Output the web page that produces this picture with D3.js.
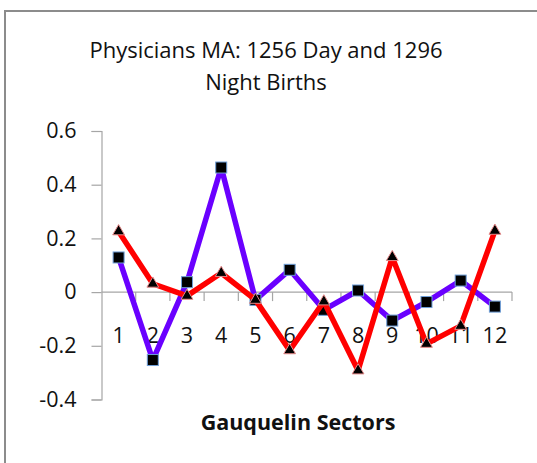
<!DOCTYPE html>
<html>
<head>
<meta charset="utf-8">
<script src="https://cdn.jsdelivr.net/npm/d3@7"></script>
<style>
  body { margin: 0; background: #fff; }
  text { font-family: "Open Sans", "Noto Sans", sans-serif; fill: #111; }
</style>
</head>
<body>
<div id="chart"></div>
<script>
(function() {

    var width = 537, height = 463;

    // chart data
    var sectors = ["1", "2", "3", "4", "5", "6", "7", "8", "9", "10", "11", "12"];
    var dayValues = [0.129, -0.253, 0.037, 0.464, -0.029, 0.083, -0.066, 0.006, -0.106, -0.037, 0.043, -0.054];
    var nightValues = [0.226, 0.031, -0.014, 0.071, -0.029, -0.217, -0.035, -0.292, 0.130, -0.193, -0.126, 0.228];
    var yTicks = [0.6, 0.4, 0.2, 0, -0.2, -0.4];

    var svg = d3.select("#chart")
        .append("svg")
        .attr("width", width)
        .attr("height", height);

    // outer frame (cut off at right and bottom)
    svg.append("rect")
        .attr("x", 5)
        .attr("y", 11)
        .attr("width", 545)
        .attr("height", 470)
        .attr("fill", "#fff")
        .attr("stroke", "#8c8c8c")
        .attr("stroke-width", 2);

    var x = d3.scaleBand()
        .domain(sectors)
        .range([101.5, 512]);

    var y = d3.scaleLinear()
        .domain([-0.4, 0.6])
        .range([399.5, 131]);

    // y axis
    var yAxis = svg.append("g")
        .attr("transform", "translate(101.5,0)")
        .call(d3.axisLeft(y)
            .tickValues(yTicks)
            .tickSize(10)
            .tickPadding(15)
            .tickFormat(function(d) { return d === 0 ? "0" : d.toFixed(1); }));
    yAxis.select(".domain").attr("stroke", "#a6a6a6").attr("stroke-width", 1.2);
    yAxis.selectAll(".tick line").attr("stroke", "#a6a6a6").attr("stroke-width", 1.2);
    yAxis.selectAll(".tick text")
        .style("font-size", "21.5px")
        .attr("fill", "#111");

    // x axis at zero with tick marks between categories
    var xAxisG = svg.append("g")
        .attr("transform", "translate(0," + y(0) + ")");
    xAxisG.append("line")
        .attr("x1", 101.5)
        .attr("x2", 512)
        .attr("stroke", "#a6a6a6")
        .attr("stroke-width", 1.2);
    var bounds = sectors.map(function(s) { return x(s) + x.bandwidth(); });
    xAxisG.selectAll(".xtick")
        .data(bounds)
        .enter()
        .append("line")
        .attr("class", "xtick")
        .attr("x1", function(d) { return d; })
        .attr("x2", function(d) { return d; })
        .attr("y1", 0)
        .attr("y2", 9)
        .attr("stroke", "#a6a6a6")
        .attr("stroke-width", 1.2);
    xAxisG.selectAll(".xlabel")
        .data(sectors)
        .enter()
        .append("text")
        .attr("class", "xlabel")
        .attr("x", function(d) { return x(d) + x.bandwidth() / 2; })
        .attr("y", 51)
        .attr("text-anchor", "middle")
        .style("font-size", "21.5px")
        .text(function(d) { return d; });

    var line = d3.line()
        .x(function(d, i) { return x(sectors[i]) + x.bandwidth() / 2; })
        .y(function(d) { return y(d); });

    // day series (purple, squares)
    svg.append("path")
        .datum(dayValues)
        .attr("d", line)
        .attr("fill", "none")
        .attr("stroke", "#6a00ff")
        .attr("stroke-width", 5.5)
        .attr("stroke-linejoin", "round");
    svg.selectAll(".sq")
        .data(dayValues)
        .enter()
        .append("rect")
        .attr("class", "sq")
        .attr("x", function(d, i) { return x(sectors[i]) + x.bandwidth() / 2 - 5.5; })
        .attr("y", function(d) { return y(d) - 5.5; })
        .attr("width", 11)
        .attr("height", 11)
        .attr("fill", "#000")
        .attr("stroke", "#6f9fd8")
        .attr("stroke-width", 1);

    // night series (red, triangles)
    svg.append("path")
        .datum(nightValues)
        .attr("d", line)
        .attr("fill", "none")
        .attr("stroke", "#ff0000")
        .attr("stroke-width", 5.5)
        .attr("stroke-linejoin", "round");
    svg.selectAll(".tri")
        .data(nightValues)
        .enter()
        .append("path")
        .attr("class", "tri")
        .attr("d", d3.symbol().type(d3.symbolTriangle).size(60))
        .attr("transform", function(d, i) {
            return "translate(" + (x(sectors[i]) + x.bandwidth() / 2) + "," + y(d) + ")";
        })
        .attr("fill", "#000")
        .attr("stroke", "#e88a8a")
        .attr("stroke-width", 1);

    // title
    var title = svg.append("text")
        .attr("text-anchor", "middle")
        .style("font-size", "22px");
    title.append("tspan").attr("x", 266).attr("y", 58).text("Physicians MA: 1256 Day and 1296");
    title.append("tspan").attr("x", 266).attr("y", 90).text("Night Births");

    // x axis title
    svg.append("text")
        .attr("x", 298)
        .attr("y", 430)
        .attr("text-anchor", "middle")
        .style("font-size", "21.5px")
        .style("font-weight", "bold")
        .text("Gauquelin Sectors");

})();
</script>
</body>
</html>
